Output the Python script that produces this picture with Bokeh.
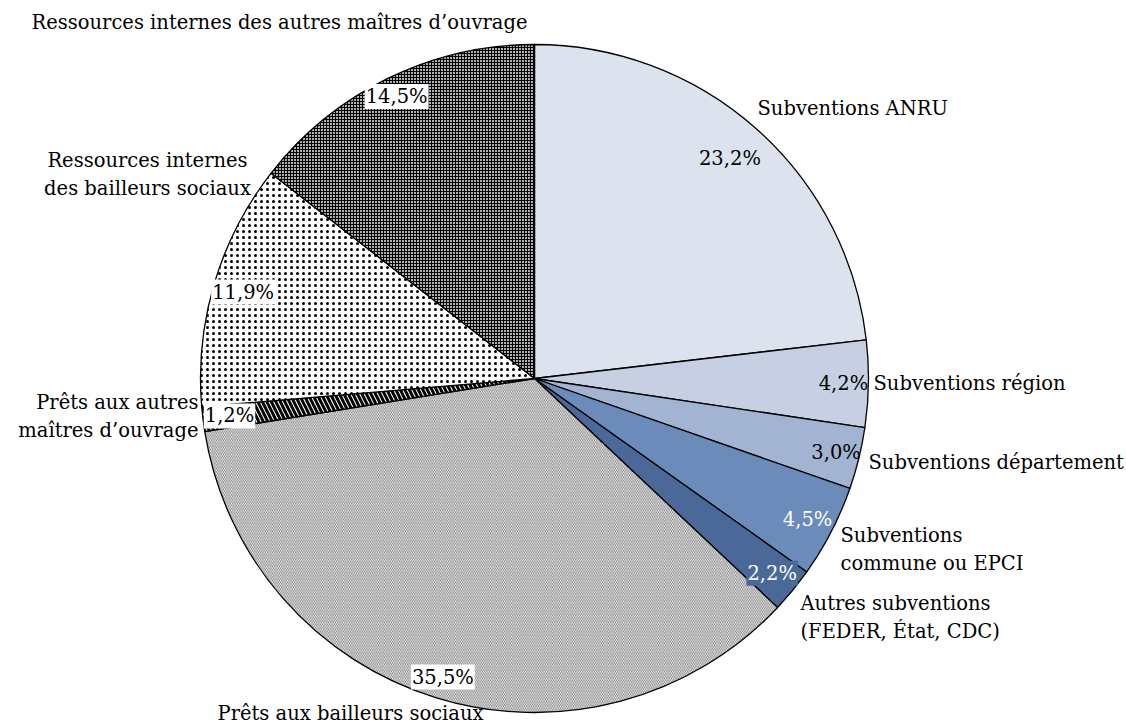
import math
from bokeh.plotting import figure
from bokeh.models import ColumnDataSource, Range1d, Label
from bokeh.embed import file_html
from bokeh.resources import INLINE

# ---- data ----
categories = [
    "Subventions ANRU",
    "Subventions région",
    "Subventions département",
    "Subventions\ncommune ou EPCI",
    "Autres subventions\n(FEDER, État, CDC)",
    "Prêts aux bailleurs sociaux",
    "Prêts aux autres\nmaîtres d\u2019ouvrage",
    "Ressources internes\ndes bailleurs sociaux",
    "Ressources internes des autres maîtres d\u2019ouvrage",
]
values = [23.2, 4.2, 3.0, 4.5, 2.2, 35.5, 1.2, 11.9, 14.5]
pct_labels = ["23,2%", "4,2%", "3,0%", "4,5%", "2,2%", "35,5%", "1,2%", "11,9%", "14,5%"]

# ---- styles ----
fill_colors = ["#dce3ee", "#c6d0e2", "#a3b4d2", "#6b8bbb", "#4a6898",
               "#ffffff", "#ffffff", "#ffffff", "#b0b0b0"]
hatch_patterns = [" ", " ", " ", " ", " ",
                  "left_diagonal_line", "left_diagonal_line", "dot", "cross"]
hatch_scales = [1, 1, 1, 1, 1, 3.5, 9, 6, 3]
hatch_weights = [1, 1, 1, 1, 1, 0.5, 3, 0.7, 1]
pct_colors = ["black", "black", "black", "white", "white",
              "black", "black", "black", "black"]
pct_bg = [None, None, None, None, "#4a6898", "white", "white", "white", "white"]
pct_radius = [0.88, 0.925, 0.93, 0.92, 0.92, 0.935, 0.92, 0.91, 0.94]

# layout of category labels (pixel coords in the window, anchor, alignment)
cat_layout = [
    (757, 108, "left"),
    (873, 383, "left"),
    (868, 462, "left"),
    (840, 549, "left"),
    (800, 617, "left"),
    (350, 713, "center"),
    (198, 416, "right"),
    (147, 174, "center"),
    (279, 22, "center"),
]

W, H = 1126, 725
CX, CY, R = 534, -378, 334
FONT = "DejaVu Serif"
FS = "19.5px"

total = sum(values)
starts, ends, mids = [], [], []
acc = 0.0
for v in values:
    a0 = math.pi / 2 - 2 * math.pi * acc / total
    acc += v
    a1 = math.pi / 2 - 2 * math.pi * acc / total
    starts.append(a0)
    ends.append(a1)
    mids.append((a0 + a1) / 2)

src = ColumnDataSource(dict(
    start=starts, end=ends, fill=fill_colors, hp=hatch_patterns,
    hs=hatch_scales, hw=hatch_weights,
))

p = figure(width=W, height=H, x_range=Range1d(0, W), y_range=Range1d(-H, 0),
           output_backend="svg", toolbar_location=None,
           x_axis_location=None, y_axis_location=None, min_border=0)
p.grid.visible = False
p.outline_line_color = None
p.background_fill_color = "white"

p.wedge(x=CX, y=CY, radius=R, start_angle="start", end_angle="end",
        direction="clock", source=src, fill_color="fill",
        hatch_pattern="hp", hatch_scale="hs", hatch_weight="hw",
        hatch_color="black", line_color="black", line_width=1.3)

for i, lab in enumerate(pct_labels):
    x = CX + pct_radius[i] * R * math.cos(mids[i])
    y = CY + pct_radius[i] * R * math.sin(mids[i])
    kw = dict(x=x, y=y, text=lab, text_align="center", text_baseline="middle",
              text_font=FONT, text_font_size=FS, text_color=pct_colors[i])
    if pct_bg[i]:
        kw.update(background_fill_color=pct_bg[i], padding=1)
    p.add_layout(Label(**kw))

for i, lab in enumerate(categories):
    lx, ly, al = cat_layout[i]
    p.add_layout(Label(x=lx, y=-ly, text=lab, text_align=al,
                       text_baseline="middle", text_font=FONT,
                       text_font_size=FS, text_color="black"))

open("out.html", "w").write(file_html(p, INLINE))
